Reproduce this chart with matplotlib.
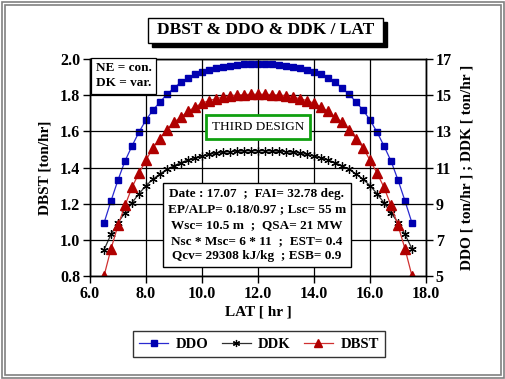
import numpy as np
import matplotlib.pyplot as plt
from matplotlib.patches import Rectangle

# data
lat = [6.5, 6.75, 7.0, 7.25, 7.5, 7.75, 8.0, 8.25, 8.5, 8.75, 9.0, 9.25, 9.5, 9.75,
       10.0, 10.25, 10.5, 10.75, 11.0, 11.25, 11.5, 11.75, 12.0, 12.25, 12.5, 12.75,
       13.0, 13.25, 13.5, 13.75, 14.0, 14.25, 14.5, 14.75, 15.0, 15.25, 15.5, 15.75,
       16.0, 16.25, 16.5, 16.75, 17.0, 17.25, 17.5]

ddo = [7.93, 9.15, 10.31, 11.36, 12.19, 12.96, 13.63, 14.18, 14.62, 15.05, 15.4, 15.72,
       15.97, 16.16, 16.3, 16.41, 16.5, 16.58, 16.63, 16.67, 16.7, 16.72, 16.72, 16.72,
       16.7, 16.67, 16.63, 16.58, 16.5, 16.41, 16.3, 16.16, 15.97, 15.72, 15.4, 15.05,
       14.62, 14.18, 13.63, 12.96, 12.19, 11.36, 10.31, 9.15, 7.93]

ddk = [6.45, 7.3, 7.95, 8.5, 9.05, 9.55, 10.0, 10.35, 10.65, 10.9, 11.1, 11.27, 11.42,
       11.54, 11.64, 11.72, 11.79, 11.84, 11.87, 11.9, 11.91, 11.92, 11.92, 11.92, 11.91,
       11.9, 11.87, 11.84, 11.79, 11.72, 11.64, 11.54, 11.42, 11.27, 11.1, 10.9, 10.65,
       10.35, 10.0, 9.55, 9.05, 8.5, 7.95, 7.3, 6.5]

dbst = [0.80, 0.95, 1.08, 1.19, 1.29, 1.37, 1.44, 1.51, 1.56, 1.61, 1.65, 1.68, 1.71,
        1.735, 1.755, 1.77, 1.78, 1.79, 1.797, 1.80, 1.803, 1.805, 1.805, 1.805, 1.803,
        1.80, 1.797, 1.79, 1.78, 1.77, 1.755, 1.735, 1.71, 1.68, 1.65, 1.61, 1.56, 1.51,
        1.44, 1.37, 1.29, 1.19, 1.08, 0.95, 0.80]

xticks = [6.0, 8.0, 10.0, 12.0, 14.0, 16.0, 18.0]
lticks = [0.8, 1.0, 1.2, 1.4, 1.6, 1.8, 2.0]
rticks = [5, 7, 9, 11, 13, 15, 17]

info = ("Date : 17.07  ;  FAI= 32.78 deg.\n"
        "EP/ALP= 0.18/0.97 ; Lsc= 55 m\n"
        "Wsc= 10.5 m  ;  QSA= 21 MW\n"
        "Nsc * Msc= 6 * 11  ;  EST= 0.4\n"
        "Qcv= 29308 kJ/kg  ; ESB= 0.9")

plt.rcParams['font.family'] = 'Liberation Serif'
plt.rcParams['font.weight'] = 'bold'

W, H = 505, 379
fig = plt.figure(figsize=(W / 100, H / 100), dpi=100)
fig.patch.set_facecolor('white')

def fx(px):
    return px / W

def fy(py):
    return 1 - py / H

# grey double frame round the picture
for m in (1.5, 4.5):
    fig.patches.append(Rectangle((fx(m), fy(H - m)), fx(W - 2 * m), (H - 2 * m) / H,
                                 transform=fig.transFigure, fill=False,
                                 edgecolor='#808080', lw=1.2))

# title with shadow box
fig.patches.append(Rectangle((fx(152), fy(47)), fx(235), 25 / H, transform=fig.transFigure,
                             facecolor='black', edgecolor='black', zorder=1))
fig.patches.append(Rectangle((fx(148), fy(43)), fx(235), 25 / H, transform=fig.transFigure,
                             facecolor='white', edgecolor='black', lw=1, zorder=2))
fig.text(fx(265.5), fy(30.5), "DBST & DDO & DDK / LAT", ha='center', va='center',
         fontsize=12.5, fontweight='bold', zorder=3)

ax = fig.add_axes([fx(90), fy(276), fx(426 - 90), (276 - 59) / H])
ax2 = ax.twinx()

ax.set_xlim(6, 18)
ax.set_ylim(0.8, 2.0)
ax2.set_ylim(5, 17)
ax.set_xticks(xticks)
ax.set_xticklabels([f"{v:.1f}" for v in xticks])
ax.set_yticks(lticks)
ax.set_yticklabels([f"{v:.1f}" for v in lticks])
ax2.set_yticks(rticks)
ax.grid(True, color='black', lw=0.9)
ax.set_axisbelow(True)

for a in (ax, ax2):
    a.tick_params(labelsize=11.5, length=5, width=1, pad=2)
    for s in a.spines.values():
        s.set_linewidth(1)

l1, = ax2.plot(lat, ddo, color='#2a2ad0', lw=0.9, marker='s', ms=4.6,
               mfc='#0000b0', mec='#0000b0', label='DDO')
l2, = ax2.plot(lat, ddk, color='#303030', lw=0.9, marker=(6, 2, 0), ms=6,
               mec='black', mew=0.9, label='DDK')
l3, = ax.plot(lat, dbst, color='#d03030', lw=0.9, marker='^', ms=6.5,
              mfc='#b00000', mec='#b00000', label='DBST')
ax.set_zorder(ax2.get_zorder() + 1)
ax.patch.set_visible(False)

ax.set_xlabel("LAT [ hr ]", fontsize=11, fontweight='bold', labelpad=3)
ax.set_ylabel("DBST [ton/hr]", fontsize=11, fontweight='bold', labelpad=6)
ax2.set_ylabel("DDO [ ton/hr ] ; DDK [ ton/hr ]", fontsize=11, fontweight='bold', labelpad=6)

ax.text(0.017, 0.985, "NE = con.\nDK = var.", transform=ax.transAxes, ha='left', va='top',
        fontsize=9.5, linespacing=1.35,
        bbox=dict(boxstyle='square,pad=0.35', fc='white', ec='black', lw=0.9))
ax.text(0.5, 0.687, "THIRD DESIGN", transform=ax.transAxes, ha='center', va='center',
        fontsize=9.5, fontweight='normal',
        bbox=dict(boxstyle='square,pad=0.45', fc='white', ec='#10a010', lw=2))
ax.text(0.497, 0.235, info, transform=ax.transAxes, ha='center', va='center',
        fontsize=9.5, linespacing=1.4, zorder=5,
        bbox=dict(boxstyle='square,pad=0.35', fc='white', ec='black', lw=1))

leg = fig.legend(handles=[l1, l2, l3], loc='center', bbox_to_anchor=(fx(259), fy(344)),
                 ncol=3, fontsize=10.5, frameon=True, fancybox=False, handlelength=2.0,
                 columnspacing=0.9, handletextpad=0.5, borderpad=0.45, markerscale=0.85)
leg.get_frame().set_edgecolor('black')
leg.get_frame().set_linewidth(1)

fig.savefig("out.png", dpi=100)
